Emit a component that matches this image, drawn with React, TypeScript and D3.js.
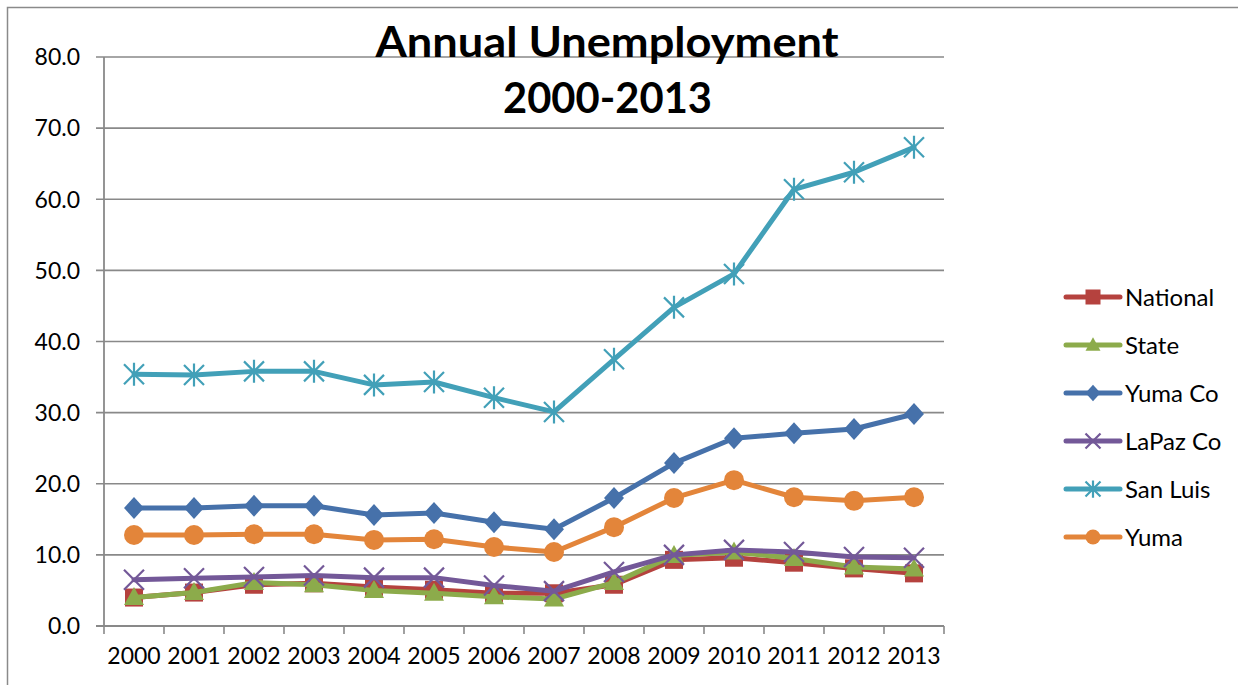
import React from "react";
import * as d3 from "d3";

const years = ["2000","2001","2002","2003","2004","2005","2006","2007","2008","2009","2010","2011","2012","2013"];
const national = [4.0, 4.7, 5.8, 6.0, 5.5, 5.1, 4.6, 4.6, 5.8, 9.3, 9.6, 8.9, 8.1, 7.4];
const stateVals = [4.0, 4.7, 6.1, 5.8, 5.0, 4.6, 4.1, 3.8, 6.1, 9.9, 10.4, 9.5, 8.3, 8.0];
const yumaCo = [16.6, 16.6, 16.9, 16.9, 15.6, 15.9, 14.6, 13.6, 18.0, 22.9, 26.4, 27.1, 27.7, 29.8];
const lapazCo = [6.5, 6.7, 6.9, 7.1, 6.8, 6.8, 5.7, 4.9, 7.6, 10.0, 10.7, 10.4, 9.7, 9.6];
const sanLuis = [35.4, 35.3, 35.8, 35.8, 33.9, 34.3, 32.1, 30.1, 37.5, 44.8, 49.5, 61.4, 63.8, 67.3];
const yuma = [12.8, 12.8, 12.9, 12.9, 12.1, 12.2, 11.1, 10.4, 13.9, 18.0, 20.5, 18.1, 17.6, 18.1];
const yTicks = [0, 10, 20, 30, 40, 50, 60, 70, 80];
const titleLines = ["Annual Unemployment", "2000-2013"];

type Marker = "square" | "triangle" | "diamond" | "x" | "asterisk" | "circle";
const series: { name: string; values: number[]; color: string; marker: Marker }[] = [
  { name: "National", values: national, color: "#B5423E", marker: "square" },
  { name: "State", values: stateVals, color: "#8CAB4B", marker: "triangle" },
  { name: "Yuma Co", values: yumaCo, color: "#4671AA", marker: "diamond" },
  { name: "LaPaz Co", values: lapazCo, color: "#735898", marker: "x" },
  { name: "San Luis", values: sanLuis, color: "#42A0B8", marker: "asterisk" },
  { name: "Yuma", values: yuma, color: "#E3853A", marker: "circle" },
];

const FONT = "Lato, 'Open Sans', 'Liberation Sans', sans-serif";
const GRID = "#898989";

function MarkerShape({ kind, x, y, color, s }: { kind: Marker; x: number; y: number; color: string; s: number }) {
  const h = s / 2;
  switch (kind) {
    case "square":
      return <rect x={x - h} y={y - h} width={s} height={s} fill={color} />;
    case "triangle":
      return <path d={`M${x},${y - h * 1.05}L${x + h},${y + h * 0.75}L${x - h},${y + h * 0.75}Z`} fill={color} />;
    case "diamond":
      return <path d={`M${x},${y - h * 1.1}L${x + h},${y}L${x},${y + h * 1.1}L${x - h},${y}Z`} fill={color} />;
    case "circle":
      return <circle cx={x} cy={y} r={h} fill={color} />;
    case "x":
      return (
        <path d={`M${x - h},${y - h}L${x + h},${y + h}M${x + h},${y - h}L${x - h},${y + h}`} stroke={color} strokeWidth={2.2} fill="none" />
      );
    case "asterisk":
      return (
        <path
          d={`M${x - h},${y - h}L${x + h},${y + h}M${x + h},${y - h}L${x - h},${y + h}M${x},${y - h * 1.15}L${x},${y + h * 1.15}`}
          stroke={color}
          strokeWidth={2.2}
          fill="none"
        />
      );
  }
  return null;
}

export default function App() {
  const W = 1238, H = 685;
  const left = 104, right = 944, top = 57, bottom = 626;
  const x = d3.scaleBand<string>().domain(years).range([left, right]);
  const y = d3.scaleLinear().domain([0, 80]).range([bottom, top]);
  const cx = (yr: string) => (x(yr) as number) + x.bandwidth() / 2;
  const line = d3
    .line<number>()
    .x((_, i) => cx(years[i]))
    .y((v) => y(v));

  const legendX = 1066, legendY0 = 297, legendStep = 48;

  return (
    <svg width={W} height={H} style={{ position: "absolute", left: 0, top: 0, background: "#fff" }}>
      <rect x={0} y={0} width={W} height={H} fill="#fff" />
      <rect x={7.5} y={7.5} width={W + 20} height={H + 20} fill="none" stroke="#8a8a8a" strokeWidth={1.5} />

      {/* gridlines */}
      {yTicks.map((t) => (
        <g key={t}>
          <line x1={left - 8} x2={right} y1={y(t)} y2={y(t)} stroke={GRID} strokeWidth={t === 0 ? 1.8 : 1.6} />
          <text x={80} y={y(t)} dy="0.36em" textAnchor="end" fontFamily={FONT} fontSize={23} fill="#000">
            {t.toFixed(1)}
          </text>
        </g>
      ))}
      {/* y axis */}
      <line x1={left} x2={left} y1={top} y2={bottom} stroke={GRID} strokeWidth={1.8} />
      {/* x ticks */}
      {years.map((yr) => (
        <line key={"t" + yr} x1={x(yr) as number} x2={x(yr) as number} y1={bottom} y2={bottom + 8} stroke={GRID} strokeWidth={1.6} />
      ))}
      <line x1={right} x2={right} y1={bottom} y2={bottom + 8} stroke={GRID} strokeWidth={1.6} />
      {years.map((yr) => (
        <text key={"l" + yr} x={cx(yr)} y={664} textAnchor="middle" fontFamily={FONT} fontSize={23} fill="#000">
          {yr}
        </text>
      ))}

      {/* series */}
      {series.map((s) => (
        <g key={s.name}>
          <path d={line(s.values) || ""} fill="none" stroke={s.color} strokeWidth={5} strokeLinejoin="round" strokeLinecap="round" />
          {s.values.map((v, i) => (
            <MarkerShape key={i} kind={s.marker} x={cx(years[i])} y={y(v)} color={s.color} s={s.marker === "square" ? 18 : 20} />
          ))}
        </g>
      ))}

      {/* title */}
      <text x={607} y={57} textAnchor="middle" fontFamily={FONT} fontWeight="bold" fontSize={42} textLength={463} lengthAdjust="spacingAndGlyphs" fill="#000">
        {titleLines[0]}
      </text>
      <text x={607.5} y={113} textAnchor="middle" fontFamily={FONT} fontWeight="bold" fontSize={42} textLength={209} lengthAdjust="spacingAndGlyphs" fill="#000">
        {titleLines[1]}
      </text>

      {/* legend */}
      {series.map((s, i) => {
        const ly = legendY0 + i * legendStep;
        return (
          <g key={"lg" + s.name}>
            <line x1={legendX} x2={legendX + 54} y1={ly} y2={ly} stroke={s.color} strokeWidth={5} strokeLinecap="round" />
            <MarkerShape kind={s.marker} x={legendX + 27} y={ly} color={s.color} s={15} />
            <text x={1125} y={ly} dy="0.36em" fontFamily={FONT} fontSize={24} fill="#000">
              {s.name}
            </text>
          </g>
        );
      })}
    </svg>
  );
}
